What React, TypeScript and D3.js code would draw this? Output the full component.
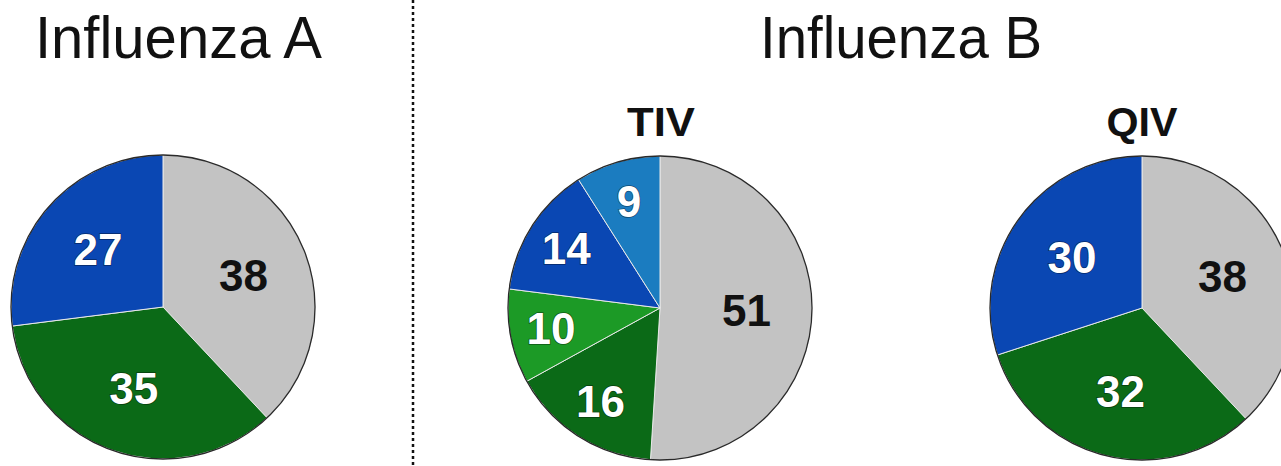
import * as d3 from "d3";

// slices go clockwise from 12 o'clock
const fluALabels = ["other", "green", "blue"];
const fluAValues = [38, 35, 27];
const fluAColors = ["#c3c3c3", "#0b6a17", "#0a47b3"];

const tivLabels = ["other", "dark green", "light green", "blue", "steel blue"];
const tivValues = [51, 16, 10, 14, 9];
const tivColors = ["#c3c3c3", "#0b6a17", "#1c9a26", "#0a47b3", "#1b7cc0"];

const qivLabels = ["other", "green", "blue"];
const qivValues = [38, 32, 30];
const qivColors = ["#c3c3c3", "#0b6a17", "#0a47b3"];

const W = 1281;
const H = 466;
const R = 152;

type PieProps = {
   cx: number;
   cy: number;
   labels: string[];
   values: number[];
   colors: string[];
};

function Pie({ cx, cy, labels, values, colors }: PieProps) {
   const pie = d3.pie<number>().sort(null).value((d) => d);
   const arcs = pie(values);
   const arc = d3.arc<d3.PieArcDatum<number>>().innerRadius(0).outerRadius(R);

   return (
      <g transform={`translate(${cx},${cy})`}>
         {arcs.map((a, i) => (
            <path
               key={labels[i]}
               d={arc(a) || ""}
               fill={colors[i]}
               stroke="#e8e8e8"
               strokeWidth={1}
            />
         ))}
         <circle r={R} fill="none" stroke="#2a2a2a" strokeWidth={1.3} />
         {arcs.map((a, i) => {
            // small slices get their numbers pushed out a bit
            const lr = a.data < 20 ? R * 0.73 : R * 0.57;
            const [x, y] = d3
               .arc<d3.PieArcDatum<number>>()
               .innerRadius(lr)
               .outerRadius(lr)
               .centroid(a);
            const dark = i === 0;
            return (
               <text
                  key={"t" + labels[i]}
                  x={x}
                  y={y}
                  textAnchor="middle"
                  dominantBaseline="central"
                  fontFamily="Liberation Sans, Arial, sans-serif"
                  fontWeight="bold"
                  fontSize={44}
                  fill={dark ? "#111" : "#fff"}
                  stroke={dark ? "none" : "rgba(0,0,0,0.45)"}
                  strokeWidth={1.5}
                  paintOrder="stroke"
               >
                  {a.data}
               </text>
            );
         })}
      </g>
   );
}

export default function App() {
   return (
      <div style={{ position: "fixed", left: 0, top: 0 }}>
         <svg width={W} height={H} style={{ display: "block", background: "#fff" }}>
            <text
               x={35}
               y={58}
               fontFamily="Liberation Sans, Arial, sans-serif"
               fontSize={60}
               textLength={287}
               lengthAdjust="spacingAndGlyphs"
               fill="#111"
            >
               Influenza A
            </text>
            <text
               x={760}
               y={58}
               fontFamily="Liberation Sans, Arial, sans-serif"
               fontSize={60}
               textLength={282}
               lengthAdjust="spacingAndGlyphs"
               fill="#111"
            >
               Influenza B
            </text>
            <line
               x1={413}
               x2={413}
               y1={0}
               y2={H}
               stroke="#111"
               strokeWidth={2.5}
               strokeDasharray="3 3"
            />
            <text
               x={661}
               y={136}
               textAnchor="middle"
               fontFamily="Liberation Sans, Arial, sans-serif"
               fontWeight="bold"
               fontSize={41}
               textLength={68}
               lengthAdjust="spacingAndGlyphs"
               fill="#111"
            >
               TIV
            </text>
            <text
               x={1142}
               y={136}
               textAnchor="middle"
               fontFamily="Liberation Sans, Arial, sans-serif"
               fontWeight="bold"
               fontSize={41}
               textLength={71}
               lengthAdjust="spacingAndGlyphs"
               fill="#111"
            >
               QIV
            </text>
            <Pie cx={163} cy={307} labels={fluALabels} values={fluAValues} colors={fluAColors} />
            <Pie cx={660} cy={308} labels={tivLabels} values={tivValues} colors={tivColors} />
            <Pie cx={1142} cy={308} labels={qivLabels} values={qivValues} colors={qivColors} />
         </svg>
      </div>
   );
}
